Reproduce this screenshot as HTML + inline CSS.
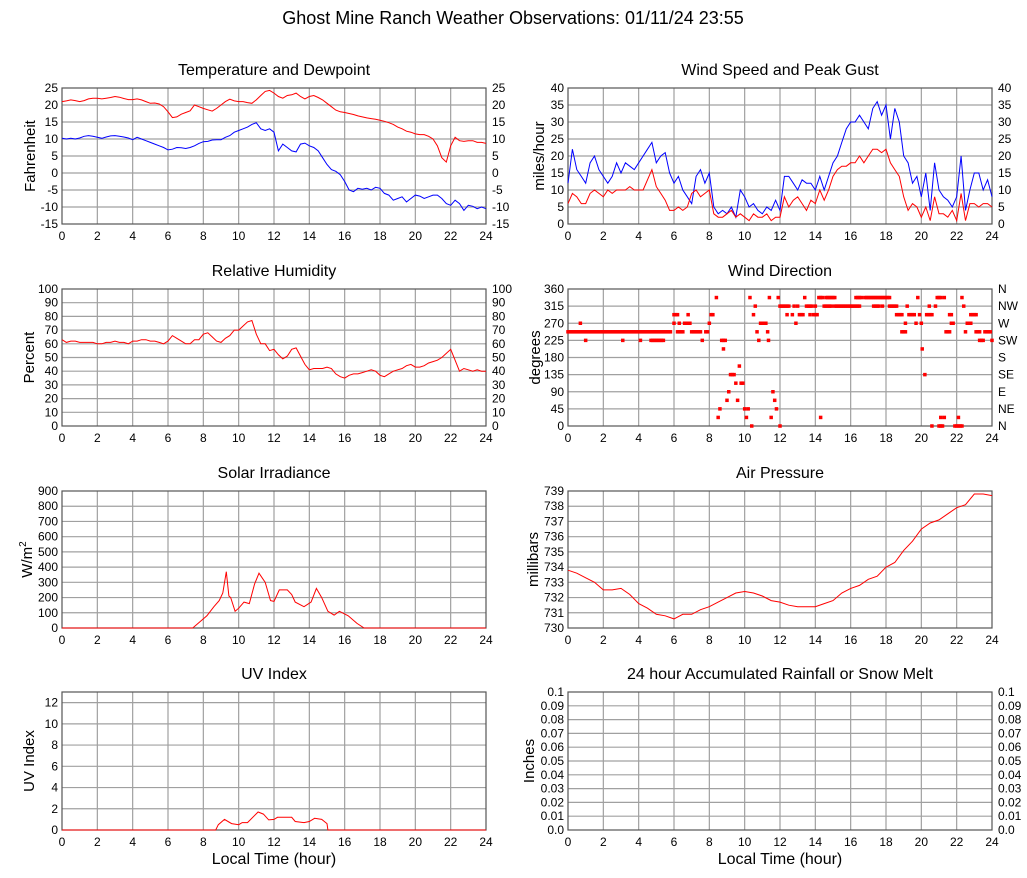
<!DOCTYPE html>
<html><head><meta charset="utf-8"><style>
body{margin:0;background:#fff;}
svg{display:block;font-family:"Liberation Sans",sans-serif;}
</style></head><body>
<svg id="c" width="1027" height="878" xmlns="http://www.w3.org/2000/svg">
<text x="513" y="24" font-size="18" text-anchor="middle">Ghost Mine Ranch Weather Observations: 01/11/24 23:55</text>
</svg>
<script>
// ---- data ----
const tempF=[21,21.2,21.5,21.3, 21,21.3,21.8,22, 22,21.8,22,22.2, 22.5,22.3,21.9,21.6, 21.6,21.8,21.5,21, 20.5,20.6,20.3,19.5, 18,16.3,16.5,17.3, 17.8,18.3,20,19.5, 19,18.6,18.2,19, 20,21,21.7,21.2, 21,21,20.7,20.5, 21.5,22.8,24,24.3, 23.5,22.5,22,22.8, 23,23.5,22.5,21.8, 22.5,22.8,22.2,21.5, 20.5,19.5,18.5,18, 17.8,17.5,17.2,16.8, 16.5,16.2,16,15.8, 15.5,15.2,14.8,14.3, 13.5,13,12.3,12, 11.5,11.3,11.3,10.8, 10,8,4.5,3.2, 8,10.5,9.5,9.3, 9.5,9.5,9,9, 8.7];
const dewF=[10.2,10,10.2,10, 10.3,10.8,11,10.8, 10.5,10.2,10.6,10.9, 11,10.8,10.6,10.3, 9.8,10.5,10,9.5, 9,8.5,8,7.5, 6.8,7,7.5,7.4, 7.2,7.5,8,8.7, 9.2,9.3,9.7,9.8, 9.8,10.5,11,12, 12.5,13,13.5,14.3, 14.8,13,12.5,13, 12,6.5,8.5,7.5, 6.5,6.2,8.5,8.8, 8,7.5,6.5,4.5, 2.5,1,0.5,-0.5, -2.5,-5,-5.5,-4.5, -4.8,-4.5,-5,-4.2, -4.5,-6,-6.5,-8, -7.5,-7,-8.5,-7.5, -6.5,-6.8,-7.5,-7, -6.5,-6.5,-7.5,-9, -9.5,-8,-9,-11, -9.5,-9.8,-10.5,-10, -10.5];
const gustMph=[12,22,16,14, 12,18,20,16, 14,12,14,18, 15,18,17,16, 18,20,22,24, 18,20,21,15, 12,14,10,8, 6,14,16,12, 15,5,3,4, 3,5,2,10, 8,5,6,4, 3,5,4,7, 4,14,14,12, 10,13,12,12, 10,14,10,14, 18,20,24,28, 30,30,32,30, 28,34,36,32, 35,25,34,30, 20,18,12,14, 8,15,4,18, 10,8,7,5, 8,20,4,10, 15,15,10,13, 8];
const speedMph=[6,9,8,6, 6,9,10,9, 8,10,9,10, 10,10,11,10, 10,10,13,16, 11,9,7,4, 4,5,4,5, 9,10,8,9, 10,3,2,2, 3,4,2,3, 2,1,3,2, 2,3,1,2, 2,8,5,7, 8,6,4,7, 6,10,7,10, 14,16,17,17, 18,18,20,18, 20,22,22,21, 22,18,16,14, 8,4,6,5, 2,5,1,8, 3,3,2,4, 1,9,1,6, 6,5,6,6, 5];
const humidity=[63,61,62,62, 61,61,61,61, 60,60,61,61, 62,61,61,60, 62,62,63,63, 62,62,61,60, 62,66,64,62, 60,60,63,63, 67,68,65,62, 61,64,66,70, 70,73,76,77, 67,60,60,55, 56,52,49,51, 56,57,51,45, 41,42,42,42, 43,42,38,36, 35,37,38,38, 39,40,41,40, 37,36,38,40, 41,42,44,45, 43,43,44,46, 47,48,50,53, 56,48,40,42, 41,40,41,40, 40];
const dirStart=[0,0.7,1.0,3.1,4.1,4.7,6.0,6.0,6.2,6.3,6.6,6.8,7.0,7.6,7.8,8.0,8.1,8.4,8.5,8.6,8.7,8.8,9.0,9.1,9.2,9.5,9.6,9.7,9.8,10.0,10.1,10.2,10.3,10.4,10.5,10.6,10.7,10.8,10.9,11.3,11.35,11.4,11.5,11.6,11.7,11.8,11.9,12.0,12.0,12.4,12.7,12.8,12.9,13.0,13.1,13.4,13.5,13.7,13.9,14.0,14.2,14.3,14.5,14.6,15.1,16.3,16.8,17.3,17.5,17.8,18.2,18.6,18.9,19.1,19.2,19.3,19.7,19.8,19.9,20.0,20.05,20.2,20.3,20.45,20.6,20.6,20.8,20.9,21.0,21.1,21.3,21.3,21.4,21.6,21.7,21.9,22.1,22.3,22.4,22.5,22.6,22.8,23.1,23.3,23.6,24.0];
const dirEnd  =[5.8,0.7,1.0,3.1,4.1,5.4,6.2,6.0,6.5,6.3,6.9,6.8,7.5,7.6,7.9,8.0,8.2,8.4,8.5,8.6,8.9,8.8,9.0,9.1,9.4,9.5,9.6,9.7,9.9,10.0,10.1,10.2,10.3,10.45,10.5,10.6,10.7,10.8,11.2,11.3,11.35,11.4,11.5,11.6,11.7,11.8,11.9,12.0,12.5,12.4,12.7,12.8,12.9,13.0,13.3,13.4,13.8,13.7,14.1,14.0,14.4,14.3,14.9,15.1,16.5,16.6,17.4,17.6,18.2,17.8,18.6,18.9,19.1,19.1,19.2,19.6,19.7,19.8,19.9,20.0,20.05,20.2,20.5,20.45,20.6,20.6,20.8,21.1,21.2,21.1,21.3,21.3,21.6,21.7,21.8,22.3,22.1,22.3,22.4,22.5,22.8,23.1,23.3,23.5,23.9,24.0];
const dirDeg  =[247.5,270,225,225,225,225,292.5,270,247.5,270,270,292.5,247.5,225,247.5,270,292.5,337.5,22.5,45,225,202.5,67.5,90,135,112.5,67.5,157.5,112.5,45,22.5,45,337.5,0,292.5,315,247.5,225,270,247.5,225,337.5,22.5,90,67.5,45,337.5,0,315,292.5,292.5,315,270,315,292.5,337.5,315,292.5,292.5,315,337.5,22.5,315,337.5,315,337.5,337.5,315,337.5,315,315,292.5,247.5,270,315,292.5,270,337.5,292.5,270,202.5,135,292.5,315,292.5,0,315,337.5,0,22.5,22.5,337.5,247.5,292.5,270,0,22.5,337.5,315,247.5,270,292.5,247.5,225,247.5,225];
const solarHours=[0,7.4,7.8,8.2,8.6,8.9,9.1,9.3,9.45,9.55,9.8,10.0,10.3,10.6,10.9,11.15,11.5,11.8,12.0,12.3,12.75,13.0,13.2,13.7,14.1,14.4,14.7,15.05,15.4,15.7,16.2,16.7,17.1,24];
const solarWm2=[0,0,40,80,140,180,230,370,210,200,110,130,170,160,290,360,300,180,175,250,250,220,170,140,170,260,200,110,85,110,80,30,0,0];
const pressureMb=[733.8,733.6,733.3,733.0,732.5,732.5,732.6,732.2,731.6,731.3,730.9,730.8,730.6,730.9,730.9,731.2,731.4,731.7,732.0,732.3,732.4,732.3,732.1,731.8,731.7,731.5,731.4,731.4,731.4,731.6,731.8,732.3,732.6,732.8,733.2,733.4,734.0,734.3,735.1,735.7,736.5,736.9,737.1,737.5,737.9,738.1,738.8,738.8,738.7];
const uvHours=[0,8.7,8.85,9.2,9.6,10.0,10.2,10.5,11.1,11.4,11.7,12.0,12.2,13.0,13.2,13.7,14.0,14.3,14.7,15.0,15.05,24];
const uvIndex=[0,0,0.5,1.0,0.6,0.5,0.7,0.7,1.7,1.5,0.95,1.0,1.2,1.2,0.8,0.7,0.8,1.1,1.0,0.6,0,0];
const xTicks=[0,2,4,6,8,10,12,14,16,18,20,22,24];
const compass=["N","NE","E","SE","S","SW","W","NW","N"];

// ---- drawing ----
const svg=document.getElementById('c');
const NS='http://www.w3.org/2000/svg';
function mk(tag,attrs,parent){const e=document.createElementNS(NS,tag);for(const k in attrs)e.setAttribute(k,attrs[k]);(parent||svg).appendChild(e);return e;}
function panel(p){
  const g=mk('g',{});
  
  
  p.sx=h=>p.x0+(h/24)*(p.x1-p.x0);
  p.sy=v=>p.y1-(v-p.min)/(p.max-p.min)*(p.y1-p.y0);
  const t=mk('text',{x:(p.x0+p.x1)/2,y:p.y0-13,'font-size':16,'text-anchor':'middle'},g);t.textContent=p.title;
  
  
  for(const h of xTicks){
    const x=p.sx(h);
    if(h>0&&h<24)mk('line',{x1:x,x2:x,y1:p.y0,y2:p.y1,stroke:'#a0a0a0','stroke-width':1.2},g);
    const tl=mk('text',{x:x,y:p.y1+16,'font-size':12,'text-anchor':'middle'},g);tl.textContent=h;
    
    
  }
  for(let i=0;i<p.ticks.length;i++){
    const v=p.ticks[i],y=p.sy(v);
    if(y>p.y0+0.5&&y<p.y1-0.5)mk('line',{x1:p.x0,x2:p.x1,y1:y,y2:y,stroke:'#a0a0a0','stroke-width':1.2},g);
    const tl=mk('text',{x:p.x0-4,y:y+4,'font-size':12,'text-anchor':'end'},g);tl.textContent=p.fmt?p.fmt(v):v;
    
    
    if(p.right){const tr=mk('text',{x:p.x1+6,y:y+4,'font-size':12,'text-anchor':'start'},g);tr.textContent=p.rlab?p.rlab[i]:(p.fmt?p.fmt(v):v);
    
    }
  }
  mk('rect',{x:p.x0,y:p.y0,width:p.x1-p.x0,height:p.y1-p.y0,fill:'none',stroke:'#555','stroke-width':1.2},g);
  const yl=mk('text',{x:0,y:0,'font-size':15,'text-anchor':'middle',transform:`translate(${p.x0-p.ylx},${(p.y0+p.y1)/2}) rotate(-90)`},g);
  yl.innerHTML=p.ylabel;
  
  
  if(p.xlabel){const xl=mk('text',{x:(p.x0+p.x1)/2,y:p.y1+34,'font-size':16,'text-anchor':'middle'},g);xl.textContent='Local Time (hour)';
  
  }
  p.g=g;return p;
}
function seriesEven(p,vals,color,name){
  const pts=vals.map((v,i)=>p.sx(i*24/(vals.length-1)).toFixed(1)+','+p.sy(v).toFixed(1)).join(' ');
  const l=mk('polyline',{points:pts,fill:'none',stroke:color,'stroke-width':1},p.g);
  
  
}
function seriesXY(p,hs,vals,color,name){
  const pts=vals.map((v,i)=>p.sx(hs[i]).toFixed(1)+','+p.sy(v).toFixed(1)).join(' ');
  const l=mk('polyline',{points:pts,fill:'none',stroke:color,'stroke-width':1},p.g);
  
  
}
const rng=(a,b,s)=>{const r=[];for(let v=a;v<=b+1e-9;v+=s)r.push(+v.toFixed(3));return r;};

const p1=panel({name:'temperature-panel',title:'Temperature and Dewpoint',x0:62,x1:486,y0:88,y1:224,min:-15,max:25,ticks:rng(-15,25,5),right:true,ylabel:'Fahrenheit',ylx:27});
seriesEven(p1,tempF,'#ff0000','temperature-line');
seriesEven(p1,dewF,'#0000ff','dewpoint-line');

const p2=panel({name:'wind-speed-panel',title:'Wind Speed and Peak Gust',x0:568,x1:992,y0:88,y1:224,min:0,max:40,ticks:rng(0,40,5),right:true,ylabel:'miles/hour',ylx:24});
seriesEven(p2,gustMph,'#0000ff','gust-line');
seriesEven(p2,speedMph,'#ff0000','speed-line');

const p3=panel({name:'humidity-panel',title:'Relative Humidity',x0:62,x1:486,y0:289,y1:426,min:0,max:100,ticks:rng(0,100,10),right:true,ylabel:'Percent',ylx:28});
seriesEven(p3,humidity,'#ff0000','humidity-line');

const p4=panel({name:'wind-direction-panel',title:'Wind Direction',x0:568,x1:992,y0:289,y1:426,min:0,max:360,ticks:rng(0,360,45),right:true,rlab:compass,ylabel:'degrees',ylx:28});
for(let i=0;i<dirDeg.length;i++){
  for(let h=dirStart[i];h<=dirEnd[i]+1e-6;h+=0.1){
    const r=mk('rect',{x:p4.sx(h)-1.75,y:p4.sy(dirDeg[i])-1.75,width:3.5,height:3.5,fill:'#ff0000'},p4.g);
    
    
  }
}

const p5=panel({name:'solar-panel',title:'Solar Irradiance',x0:62,x1:486,y0:491,y1:628,min:0,max:900,ticks:rng(0,900,100),right:false,ylabel:'W/m<tspan dy="-6" font-size="10">2</tspan>',ylx:30});
seriesXY(p5,solarHours,solarWm2,'#ff0000','solar-line');

const p6=panel({name:'pressure-panel',title:'Air Pressure',x0:568,x1:992,y0:491,y1:628,min:730,max:739,ticks:rng(730,739,1),right:false,ylabel:'millibars',ylx:30});
seriesEven(p6,pressureMb,'#ff0000','pressure-line');

const p7=panel({name:'uv-panel',title:'UV Index',x0:62,x1:486,y0:692,y1:830,min:0,max:13,ticks:rng(0,12,2),right:false,ylabel:'UV Index',ylx:28,xlabel:true});
seriesXY(p7,uvHours,uvIndex,'#ff0000','uv-line');

const p8=panel({name:'rainfall-panel',title:'24 hour Accumulated Rainfall or Snow Melt',x0:568,x1:992,y0:692,y1:830,min:0,max:0.1,ticks:rng(0,0.1,0.01),right:true,fmt:v=>v===0?'0.0':(+v.toFixed(2)).toString(),ylabel:'Inches',ylx:34,xlabel:true});
</script>
</body></html>
